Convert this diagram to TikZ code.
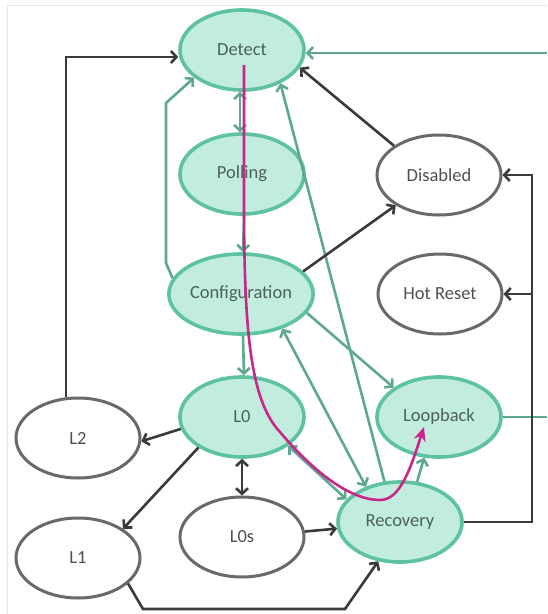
\documentclass[tikz,border=0pt]{standalone}
\usepackage{fontspec}
\setmainfont{Carlito}
\usetikzlibrary{shapes.geometric,arrows.meta}

\definecolor{mintfill}{RGB}{194,236,221}
\definecolor{mintline}{RGB}{92,194,160}
\definecolor{tealwire}{RGB}{94,168,146}
\definecolor{darkwire}{RGB}{58,58,58}
\definecolor{greyline}{RGB}{105,105,105}
\definecolor{labelgreen}{RGB}{74,98,91}
\definecolor{labelgrey}{RGB}{80,80,80}
\definecolor{pathpink}{RGB}{200,38,138}
\definecolor{framegrey}{RGB}{232,232,232}

\tikzset{
  state/.style={ellipse, inner sep=0pt, minimum width=124pt, minimum height=80pt,
    font=\fontsize{18.5}{22}\selectfont},
  activestate/.style={state, draw=mintline, fill=mintfill, line width=3.6pt, text=labelgreen},
  idlestate/.style={state, draw=greyline, fill=white, line width=3pt, text=labelgrey},
  barb/.tip={Straight Barb[length=5.5pt,width=12pt]},
  tealedge/.style={draw=tealwire, line width=2.6pt, -barb},
  tealboth/.style={draw=tealwire, line width=2.6pt, barb-barb},
  darkedge/.style={draw=darkwire, line width=2.6pt, -barb},
  darkboth/.style={draw=darkwire, line width=2.6pt, barb-barb},
  pinkroute/.style={draw=pathpink, line width=2.6pt, -{Stealth[length=14pt,width=12pt]}},
}

\begin{document}
\begin{tikzpicture}[x=1pt, y=-1pt]
  \useasboundingbox (0,0) rectangle (547,614);
  \fill[white] (0,0) rectangle (547,614);
  % faint frame of the drawing area
  \draw[framegrey, line width=1pt] (7,614) -- (7,5) -- (547,5);

  % states
  \node[activestate] (Detect)   at (242,50)  {Detect};
  \node[activestate] (Polling)  at (242,174) {Polling};
  \node[idlestate]   (Disabled) at (439,175) {Disabled};
  \node[activestate] (Config)   at (241,294) {Configuration};
  \node[idlestate]   (HotReset) at (440,294) {Hot Reset};
  \node[activestate] (Lzero)    at (242,417) {L0};
  \node[activestate] (Loopback) at (439,417) {Loopback};
  \node[idlestate]   (Ltwo)     at (78,438)  {L2};
  \node[idlestate]   (Lone)     at (78,558)  {L1};
  \node[idlestate]   (Lzeros)   at (242,537) {L0s};
  \node[activestate] (Recovery) at (400,522) {Recovery};

  % wires leaving the drawing on the right
  \coordinate (edgeTop)  at (547,53);
  \coordinate (edgeLoop) at (547,417);
  \coordinate (bus)      at (532,0);

  % teal transitions
  \draw[tealedge] (edgeTop) -- ([yshift=-3pt]Detect.east);
  \draw[tealedge, -] (Loopback.east) -- (edgeLoop);
  \draw[tealboth] ([xshift=-2pt]Detect.south) -- ([xshift=-2pt]Polling.north);
  \draw[tealedge] ([xshift=2pt]Polling.south) -- ([xshift=2pt]Config.north);
  \draw[tealedge] ([xshift=2pt]Config.south) -- ([xshift=2pt]Lzero.north);
  \draw[tealedge] (Config.167) -- (166,263) -- (166,103) -- (Detect.210);
  \draw[tealedge] (Recovery.111) -- (Detect.-41);
  \draw[tealedge] (Config.-16) -- (Loopback.147);
  \draw[tealboth] (Config.-40) -- (Recovery.134);
  \draw[tealboth] (Lzero.-32) -- (Recovery.157);
  \draw[tealedge] (Recovery.67) -- (Loopback.250);

  % dark transitions
  \draw[darkedge] ([xshift=-12pt]Ltwo.north) |- ([yshift=-7pt]Detect.west);
  \draw[darkedge] (Disabled.147) -- (Detect.-17);
  \draw[darkedge] (Config.20) -- (Disabled.215);
  \draw[darkedge] (Recovery.east) -| (bus |- Disabled.east) -- (Disabled.east);
  \draw[darkedge] (bus |- HotReset.east) -- (HotReset.east);
  \draw[darkedge] (Lzero.191) -- (Ltwo.-3);
  \draw[darkedge] (Lzero.215) -- (Lone.33);
  \draw[darkboth] (Lzero.south) -- (Lzeros.north);
  \draw[darkedge] (Lzeros.5) -- (Recovery.186);
  \draw[darkedge] (Lone.-27) -- (143,609) -- (345,609) -- (Recovery.241);

  % highlighted route from Detect into Loopback
  \coordinate (routeStart) at (244,65);
  \coordinate (routeEnd)   at (424,427);
  \draw[pinkroute] (routeStart) -- (244,200)
    .. controls (244,330) and (250,400) .. (280,432)
    .. controls (305,462) and (345,500) .. (380,500)
    .. controls (400,500) and (410,470) .. (routeEnd);
\end{tikzpicture}
\end{document}
